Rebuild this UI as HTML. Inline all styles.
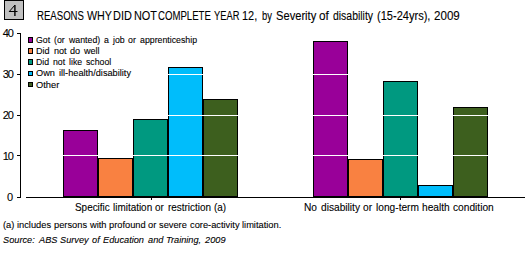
<!DOCTYPE html>
<html><head><meta charset="utf-8">
<style>
html,body{margin:0;padding:0;background:#fff;}
body{width:529px;height:253px;position:relative;overflow:hidden;font-family:"Liberation Sans",sans-serif;color:#000;}
.a{position:absolute;}
.t{position:absolute;white-space:nowrap;line-height:1;transform-origin:0 0;}
.w{position:absolute;white-space:nowrap;line-height:1;transform-origin:0 0;}
.sw{-webkit-text-stroke:0.1px #000;}
.bar{position:absolute;box-sizing:border-box;border:1px solid #000;}
.g{position:absolute;left:26px;width:499px;height:1px;background:#fff;}
.tk{position:absolute;left:17px;width:4px;height:1px;background:#000;}
.yl{position:absolute;right:516px;font-size:11px;line-height:1;letter-spacing:-1px;-webkit-text-stroke:0.1px #000;}
.mk{position:absolute;left:28px;width:5px;height:6px;box-sizing:border-box;border:1px solid #000;}
</style></head>
<body>
<div class="a" style="left:4px;top:0;width:20px;height:20px;box-sizing:border-box;border:1px solid #000;background:#c0c0c0;"></div>
<svg class="a" style="left:0;top:0" width="24" height="20" viewBox="0 0 24 20"><path d="M14.8 5.2 L9.3 11.5" stroke="#000" stroke-width="1" fill="none"/><rect x="14.2" y="5" width="1.4" height="11" fill="#000"/><rect x="9" y="11" width="8.5" height="1" fill="#000"/></svg>
<div class="a" style="left:20px;top:33px;width:1px;height:165px;background:#000;"></div>
<div class="tk" style="top:33px"></div>
<div class="tk" style="top:74px"></div>
<div class="tk" style="top:115px"></div>
<div class="tk" style="top:155px"></div>
<div class="tk" style="top:197px"></div>
<div class="yl" style="top:28px">40</div>
<div class="yl" style="top:69px">30</div>
<div class="yl" style="top:110px">20</div>
<div class="yl" style="top:151px">10</div>
<div class="yl" style="top:192px;letter-spacing:0;right:516px">0</div>
<div class="a" style="left:26px;top:197px;width:499px;height:1px;background:#000;"></div>
<div class="a" style="left:151px;top:198px;width:1px;height:2px;background:#000;"></div>
<div class="a" style="left:400px;top:198px;width:1px;height:2px;background:#000;"></div>
<div class="bar" style="left:63px;top:130px;width:35px;height:67px;background:#990099"></div>
<div class="bar" style="left:98px;top:158px;width:35px;height:39px;background:#f98141"></div>
<div class="bar" style="left:133px;top:119px;width:35px;height:78px;background:#009980"></div>
<div class="bar" style="left:168px;top:67px;width:35px;height:130px;background:#00bdfb"></div>
<div class="bar" style="left:203px;top:99px;width:35px;height:98px;background:#3d5f1e"></div>
<div class="bar" style="left:313px;top:41px;width:35px;height:156px;background:#990099"></div>
<div class="bar" style="left:348px;top:159px;width:35px;height:38px;background:#f98141"></div>
<div class="bar" style="left:383px;top:81px;width:35px;height:116px;background:#009980"></div>
<div class="bar" style="left:418px;top:185px;width:35px;height:12px;background:#00bdfb"></div>
<div class="bar" style="left:453px;top:107px;width:35px;height:90px;background:#3d5f1e"></div>
<div class="g" style="top:74px"></div>
<div class="g" style="top:115px"></div>
<div class="g" style="top:155px"></div>
<div class="mk" style="top:37px;background:#990099"></div>
<div class="mk" style="top:48px;background:#f98141"></div>
<div class="mk" style="top:59px;background:#009980"></div>
<div class="mk" style="top:71px;height:5px;background:#00bdfb"></div>
<div class="mk" style="top:82px;height:5px;background:#3d5f1e"></div>
<div class="w sw" style="left:37.20px;top:10px;font-size:12px;transform:scaleX(0.8000)">REASONS</div>
<div class="w sw" style="left:86.80px;top:10px;font-size:12px;transform:scaleX(0.8929)">WHY</div>
<div class="w sw" style="left:112.59px;top:10px;font-size:12px;transform:scaleX(0.9105)">DID</div>
<div class="w sw" style="left:133.69px;top:10px;font-size:12px;transform:scaleX(0.9083)">NOT</div>
<div class="w sw" style="left:157.90px;top:10px;font-size:12px;transform:scaleX(0.8015)">COMPLETE</div>
<div class="w sw" style="left:213.80px;top:10px;font-size:12px;transform:scaleX(0.7781)">YEAR</div>
<div class="w sw" style="left:242.29px;top:10px;font-size:12px;transform:scaleX(0.9133)">12,</div>
<div class="w sw" style="left:262.30px;top:10px;font-size:12px;transform:scaleX(0.7846)">by</div>
<div class="w sw" style="left:275.87px;top:10px;font-size:12px;transform:scaleX(0.9286)">Severity</div>
<div class="w sw" style="left:318.60px;top:10px;font-size:12px;transform:scaleX(0.9818)">of</div>
<div class="w sw" style="left:332.70px;top:10px;font-size:12px;transform:scaleX(0.8696)">disability</div>
<div class="w sw" style="left:376.90px;top:10px;font-size:12px;transform:scaleX(0.9211)">(15-24yrs),</div>
<div class="w sw" style="left:433.50px;top:10px;font-size:12px;transform:scaleX(0.9654)">2009</div>
<div class="w sw" style="left:36.30px;top:35px;font-size:9.5px;transform:scaleX(0.9231)">Got</div>
<div class="w sw" style="left:54.32px;top:35px;font-size:9.5px;transform:scaleX(0.9231)">(or</div>
<div class="w sw" style="left:68.93px;top:35px;font-size:9.5px;transform:scaleX(0.9231)">wanted)</div>
<div class="w sw" style="left:104.02px;top:35px;font-size:9.5px;transform:scaleX(0.9231)">a</div>
<div class="w sw" style="left:112.79px;top:35px;font-size:9.5px;transform:scaleX(0.9231)">job</div>
<div class="w sw" style="left:128.38px;top:35px;font-size:9.5px;transform:scaleX(0.9231)">or</div>
<div class="w sw" style="left:140.07px;top:35px;font-size:9.5px;transform:scaleX(0.9231)">apprenticeship</div>
<div class="w sw" style="left:36.30px;top:46px;font-size:9.5px;transform:scaleX(0.9556)">Did</div>
<div class="w sw" style="left:53.55px;top:46px;font-size:9.5px;transform:scaleX(0.9556)">not</div>
<div class="w sw" style="left:69.79px;top:46px;font-size:9.5px;transform:scaleX(0.9556)">do</div>
<div class="w sw" style="left:83.51px;top:46px;font-size:9.5px;transform:scaleX(0.9556)">well</div>
<div class="w sw" style="left:36.30px;top:57px;font-size:9.5px;transform:scaleX(0.9201)">Did</div>
<div class="w sw" style="left:53.17px;top:57px;font-size:9.5px;transform:scaleX(0.9201)">not</div>
<div class="w sw" style="left:69.08px;top:57px;font-size:9.5px;transform:scaleX(0.9201)">like</div>
<div class="w sw" style="left:85.96px;top:57px;font-size:9.5px;transform:scaleX(0.9201)">school</div>
<div class="w sw" style="left:36.30px;top:68px;font-size:9.5px;transform:scaleX(0.9670)">Own</div>
<div class="w sw" style="left:59.07px;top:68px;font-size:9.5px;transform:scaleX(0.9670)">ill-health/disability</div>
<div class="w sw" style="left:36.30px;top:80px;font-size:9.5px;transform:scaleX(0.9792)">Other</div>
<div class="w sw" style="left:74.50px;top:202px;font-size:11px;transform:scaleX(0.9019)">Specific</div>
<div class="w sw" style="left:112.75px;top:202px;font-size:11px;transform:scaleX(0.9019)">limitation</div>
<div class="w sw" style="left:155.42px;top:202px;font-size:11px;transform:scaleX(0.9019)">or</div>
<div class="w sw" style="left:167.76px;top:202px;font-size:11px;transform:scaleX(0.9019)">restriction</div>
<div class="w sw" style="left:214.27px;top:202px;font-size:11px;transform:scaleX(0.9019)">(a)</div>
<div class="w sw" style="left:304.37px;top:202px;font-size:11px;transform:scaleX(0.9251)">No</div>
<div class="w sw" style="left:320.79px;top:202px;font-size:11px;transform:scaleX(0.9251)">disability</div>
<div class="w sw" style="left:363.22px;top:202px;font-size:11px;transform:scaleX(0.9251)">or</div>
<div class="w sw" style="left:375.68px;top:202px;font-size:11px;transform:scaleX(0.9251)">long-term</div>
<div class="w sw" style="left:422.06px;top:202px;font-size:11px;transform:scaleX(0.9251)">health</div>
<div class="w sw" style="left:453.20px;top:202px;font-size:11px;transform:scaleX(0.9251)">condition</div>
<div class="w sw" style="left:2.80px;top:220px;font-size:9.5px;transform:scaleX(0.9778)">(a)</div>
<div class="w sw" style="left:16.92px;top:220px;font-size:9.5px;transform:scaleX(0.9778)">includes</div>
<div class="w sw" style="left:53.77px;top:220px;font-size:9.5px;transform:scaleX(0.9778)">persons</div>
<div class="w sw" style="left:89.58px;top:220px;font-size:9.5px;transform:scaleX(0.9778)">with</div>
<div class="w sw" style="left:108.86px;top:220px;font-size:9.5px;transform:scaleX(0.9778)">profound</div>
<div class="w sw" style="left:148.30px;top:220px;font-size:9.5px;transform:scaleX(0.9778)">or</div>
<div class="w sw" style="left:159.33px;top:220px;font-size:9.5px;transform:scaleX(0.9778)">severe</div>
<div class="w sw" style="left:189.97px;top:220px;font-size:9.5px;transform:scaleX(0.9778)">core-activity</div>
<div class="w sw" style="left:242.29px;top:220px;font-size:9.5px;transform:scaleX(0.9778)">limitation.</div>
<div class="w sw" style="left:3.40px;top:235px;font-size:9.5px;font-style:italic;transform:scaleX(0.9702)">Source:</div>
<div class="w sw" style="left:38.51px;top:235px;font-size:9.5px;font-style:italic;transform:scaleX(0.9702)">ABS</div>
<div class="w sw" style="left:60.29px;top:235px;font-size:9.5px;font-style:italic;transform:scaleX(0.9702)">Survey</div>
<div class="w sw" style="left:92.32px;top:235px;font-size:9.5px;font-style:italic;transform:scaleX(0.9702)">of</div>
<div class="w sw" style="left:103.35px;top:235px;font-size:9.5px;font-style:italic;transform:scaleX(0.9702)">Education</div>
<div class="w sw" style="left:147.69px;top:235px;font-size:9.5px;font-style:italic;transform:scaleX(0.9702)">and</div>
<div class="w sw" style="left:166.41px;top:235px;font-size:9.5px;font-style:italic;transform:scaleX(0.9702)">Training,</div>
<div class="w sw" style="left:204.93px;top:235px;font-size:9.5px;font-style:italic;transform:scaleX(0.9702)">2009</div>
</body></html>
